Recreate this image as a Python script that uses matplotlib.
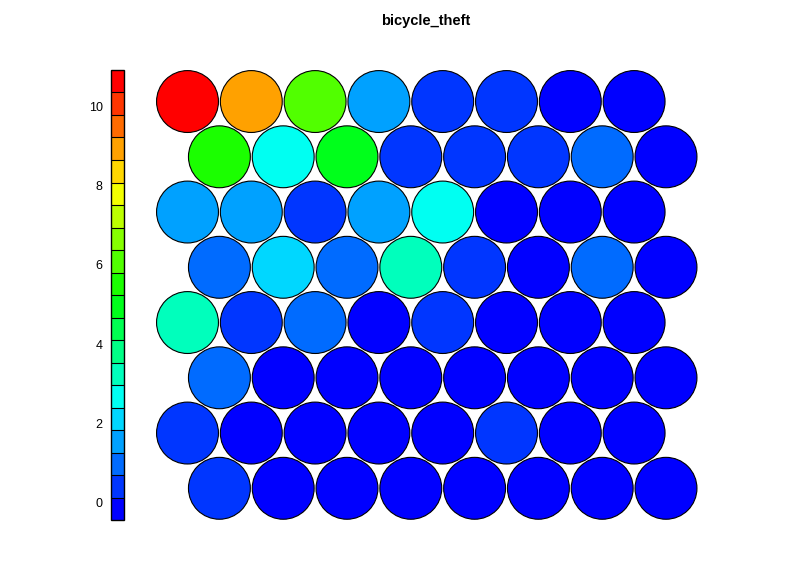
import colorsys
import numpy as np
import matplotlib
matplotlib.use("Agg")
import matplotlib.pyplot as plt
from matplotlib.patches import Circle
from matplotlib.colors import ListedColormap, BoundaryNorm
from matplotlib.cm import ScalarMappable

plt.rcParams['font.family'] = ['Liberation Sans', 'DejaVu Sans']

title = "bicycle_theft"
n_cols = 8
n_rows = 8
# unit values, rows listed from top to bottom, 8 units per row
values_rows = [
    [10.6, 9.0, 6.1, 1.5, 0.4, 0.4, 0.0, 0.0],
    [5.5, 2.7, 5.0, 0.4, 0.4, 0.4, 1.0, 0.0],
    [1.5, 1.5, 0.4, 1.5, 2.7, 0.0, 0.0, 0.0],
    [1.0, 2.1, 1.0, 3.3, 0.4, 0.0, 1.0, 0.0],
    [3.3, 0.4, 1.0, 0.0, 0.4, 0.0, 0.0, 0.0],
    [1.0, 0.0, 0.0, 0.0, 0.0, 0.0, 0.0, 0.0],
    [0.4, 0.0, 0.0, 0.0, 0.0, 0.4, 0.0, 0.0],
    [0.4, 0.0, 0.0, 0.0, 0.0, 0.0, 0.0, 0.0],
]
zlim = (-0.447, 10.93)
n_colors = 20
cbar_ticks = [0, 2, 4, 6, 8, 10]

# palette: rainbow from blue (hue 4/6) to red
palette = [colorsys.hsv_to_rgb((4 / 6) * (1 - i / (n_colors - 1)), 1, 1) for i in range(n_colors)]
cmap = ListedColormap(palette)
bounds = np.linspace(zlim[0], zlim[1], n_colors + 1)
norm = BoundaryNorm(bounds, n_colors)

W, H = 796, 562
fig = plt.figure(figsize=(W / 100, H / 100), dpi=100)

# main axes in pixel geometry
px_unit = 63.8
ax_l, ax_r, ax_t, ax_b = 150, 720, 60, 530
x0_px, y0_px = 187.5, 488.3
ax = fig.add_axes([ax_l / W, (H - ax_b) / H, (ax_r - ax_l) / W, (ax_b - ax_t) / H])
ax.set_xlim(1 - (x0_px - ax_l) / px_unit, 1 + (ax_r - x0_px) / px_unit)
ax.set_ylim(-(ax_b - y0_px) / px_unit, (y0_px - ax_t) / px_unit)
ax.axis('off')

for r_top, row in enumerate(values_rows):
    r_bot = n_rows - 1 - r_top
    offset = 0.5 if r_bot % 2 == 0 else 0.0
    for c, v in enumerate(row):
        x = 1 + c + offset
        y = r_bot * np.sqrt(3) / 2
        ax.add_patch(Circle((x, y), 0.485, facecolor=cmap(norm(v)),
                            edgecolor='black', linewidth=0.8))

# colorbar
cax = fig.add_axes([111 / W, (H - 520) / H, 13 / W, 450 / H])
sm = ScalarMappable(norm=norm, cmap=cmap)
cb = fig.colorbar(sm, cax=cax, drawedges=True, ticks=cbar_ticks)
cb.minorticks_off()
cb.outline.set_linewidth(1.0)
cb.dividers.set_linewidth(0.8)
cb.dividers.set_color('black')
cax.yaxis.set_ticks_position('left')
cax.yaxis.set_label_position('left')
cax.tick_params(axis='y', which='both', length=0, pad=6, labelsize=9)
cax.set_yticklabels([str(t) for t in cbar_ticks])

fig.text(426 / W, 1 - 21 / H, title, ha='center', va='center',
         fontsize=10.5, fontweight='bold')

fig.savefig("out.png", dpi=100)
